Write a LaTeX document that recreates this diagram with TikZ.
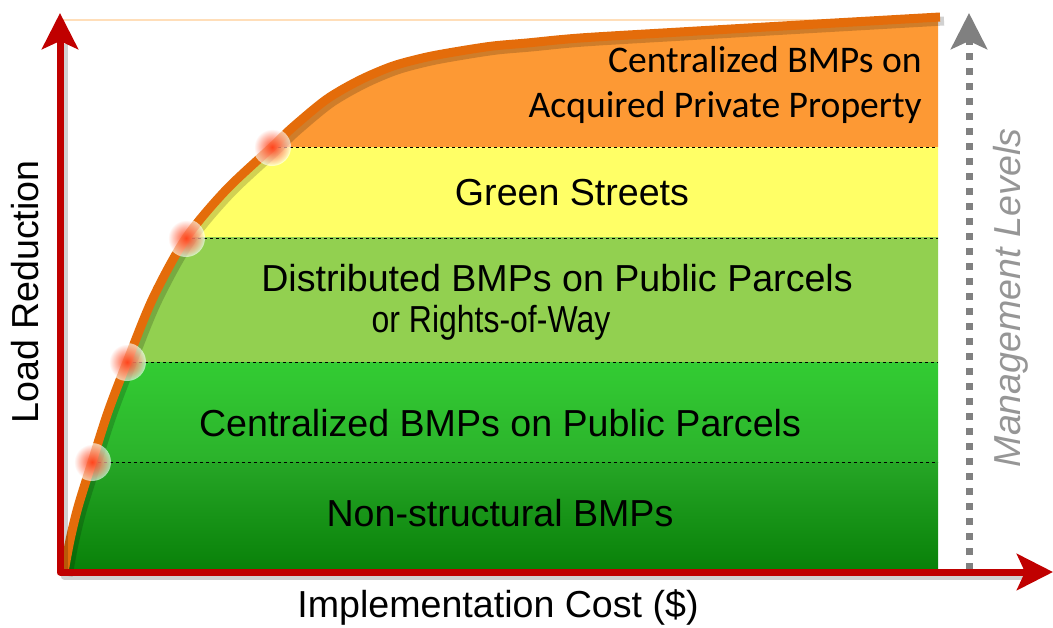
\documentclass[tikz,border=0pt]{standalone}
\usepackage{fontspec}
\setmainfont{Liberation Sans}
\newfontfamily\calibri{Carlito}
\usetikzlibrary{arrows.meta,fadings}

\definecolor{axisred}{RGB}{192,0,0}
\definecolor{curveorange}{RGB}{228,108,10}
\definecolor{bandorange}{RGB}{253,153,52}
\definecolor{bandyellow}{RGB}{255,255,102}
\definecolor{bandlime}{RGB}{146,208,80}
\definecolor{bandgreenA}{RGB}{51,204,51}
\definecolor{bandgreenB}{RGB}{43,178,43}
\definecolor{banddarkA}{RGB}{38,166,38}
\definecolor{banddarkB}{RGB}{8,128,8}
\definecolor{levelgray}{RGB}{128,128,128}
\definecolor{labelgray}{RGB}{150,150,150}
\definecolor{glowred}{RGB}{255,70,30}
\definecolor{topline}{RGB}{255,222,185}

\tikzfading[name=glowfade, inner color=transparent!0, outer color=transparent!100]

\begin{document}
\begin{tikzpicture}[x=0.5pt,y=-0.5pt]
    \tikzstyle{every node}=[font=\fontsize{18.8}{22.5}\selectfont, inner sep=0pt]
    \tikzstyle{axis}=[draw=axisred, line width=3.5pt, line join=round, {Stealth[length=18pt, width=18pt, inset=4pt]}-{Stealth[length=18pt, width=18pt, inset=4pt]}]
    \tikzstyle{shadow}=[draw=black, opacity=0.18, shift={(4,4)}]
    \tikzstyle{level line}=[black, line width=0.5pt, dash pattern=on 1.5pt off 1.5pt]
    \tikzstyle{mgmt}=[draw=levelgray, line width=3.5pt, dash pattern=on 3.5pt off 4pt, -{Stealth[length=18pt, width=18pt, inset=4pt]}]
    \def\loadcurve{plot[smooth, tension=0.5] coordinates {(64,572) (70,540) (78,507) (92,462) (108,412) (127,362) (153,298) (186,238) (226,190) (272,147) (293,127) (327,99) (360,80) (393,66) (427,57) (460,51) (493,46) (527,43) (580,38) (680,32) (800,25) (940,17)}}

    \useasboundingbox (0,0) rectangle (1053,627);
    \draw[topline, line width=0.7pt] (62,20) -- (940,20);

    % bands under the curve
    \begin{scope}
        \clip \loadcurve -- (938,17) -- (938,570) -- (63,570) -- cycle;
        \fill[bandorange] (60,0) rectangle (940,147);
        \fill[bandyellow] (60,147) rectangle (940,237);
        \fill[bandlime] (60,237) rectangle (940,362);
        \shade[top color=bandgreenA, bottom color=bandgreenB] (60,362) rectangle (940,462);
        \shade[top color=banddarkA, bottom color=banddarkB] (60,462) rectangle (940,572);
    \end{scope}

    \coordinate (p1) at (92,462);
    \coordinate (p2) at (127,362);
    \coordinate (p3) at (186,238);
    \coordinate (p4) at (272,147);
    \foreach \p/\y in {p1/462,p2/362,p3/238,p4/147}
        \draw[level line] (\p) -- (938,\y);

    % management levels arrow
    \draw[mgmt] (969,570) -- (969,13);

    % curve and axes
    \draw[shadow, line width=4.5pt] \loadcurve;
    \draw[curveorange, line width=4.5pt] \loadcurve;
    \draw[shadow, line width=3.5pt, line join=round] (60,40) -- (60,572) -- (1030,572);
    \draw[axis] (60,13) -- (60,572) -- (1053,572);

    % glowing points
    \foreach \p in {p1,p2,p3,p4} {
        \fill[white, opacity=0.6] (\p) circle (9.5pt);
        \fill[glowred, path fading=glowfade] (\p) circle (9pt);
    }

    \node[align=right, anchor=east, font=\fontsize{18.8}{22.5}\selectfont\calibri] (privTxt) at (922,85) {Centralized BMPs on\\Acquired Private Property};
    \node (streetTxt) at (572,193) {Green Streets};
    \node (distTxt) at (557,278) {Distributed BMPs on Public Parcels};
    \node[xscale=0.85] (rowTxt) at (491,323) {or Rights-of-Way};
    \node (pubTxt) at (500,423) {Centralized BMPs on Public Parcels};
    \node (nonTxt) at (500,513) {Non-structural BMPs};
    \node (costLbl) at (498,607) {Implementation Cost (\$)};
    \node[rotate=90] (loadLbl) at (25,292) {Load Reduction};
    \node[rotate=90, text=labelgray, font=\fontsize{18.8}{22.5}\selectfont\itshape] (mgmtLbl) at (1011,298) {Management Levels};
\end{tikzpicture}
\end{document}
